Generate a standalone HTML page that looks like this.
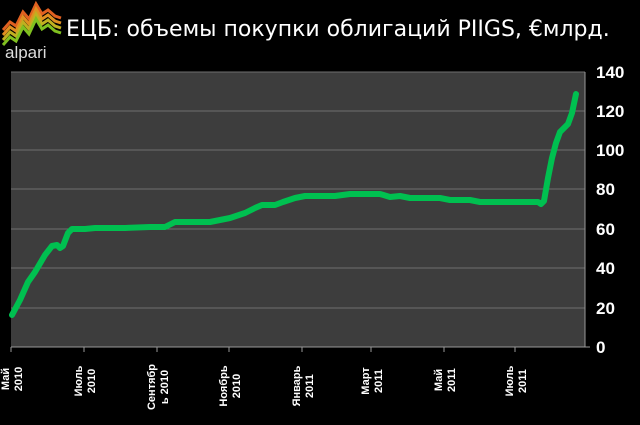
<!DOCTYPE html>
<html><head><meta charset="utf-8"><style>
body{margin:0;background:#000;width:640px;height:420px;overflow:hidden}
</style></head><body>
<svg width="640" height="420" xmlns="http://www.w3.org/2000/svg" font-family="Liberation Sans, DejaVu Sans, sans-serif">
<rect width="640" height="420" fill="#000"/>
<g>
<polyline points="3,30 10,22 16,26 23,12 29,19 36,4 42,14 48,10 55,16 61,18" fill="none" stroke="#e06020" stroke-width="3"/>
<polyline points="3,35 10,27 16,31 23,17 29,24 36,9 42,19 48,15 55,21 61,23" fill="none" stroke="#e09020" stroke-width="3"/>
<polyline points="3,40 10,32 16,36 23,22 29,29 36,14 42,24 48,20 55,26 61,28" fill="none" stroke="#c0b020" stroke-width="3"/>
<polyline points="3,45 10,37 16,41 23,27 29,34 36,19 42,29 48,25 55,31 61,33" fill="none" stroke="#80c020" stroke-width="3"/>
<text x="5" y="58" fill="#ddd" font-size="17">alpari</text>
</g>
<text x="66" y="36" fill="#fff" font-size="22" font-family="DejaVu Sans, sans-serif">ЕЦБ: объемы покупки облигаций PIIGS, €млрд.</text>
<rect x="11" y="72" width="574" height="275" fill="#3d3d3d"/>
<g stroke="#6e6e6e" stroke-width="1">
<line x1="11" x2="585" y1="111" y2="111"/><line x1="11" x2="585" y1="150" y2="150"/>
<line x1="11" x2="585" y1="189" y2="189"/><line x1="11" x2="585" y1="229" y2="229"/>
<line x1="11" x2="585" y1="268" y2="268"/><line x1="11" x2="585" y1="308" y2="308"/>
<line x1="11" x2="585" y1="72" y2="72"/>
</g>
<g stroke="#999" stroke-width="1">
<line x1="11" x2="590" y1="347" y2="347"/><line x1="585" x2="585" y1="72" y2="347"/>
<line x1="11" x2="11" y1="347" y2="352"/><line x1="84" x2="84" y1="347" y2="352"/>
<line x1="157" x2="157" y1="347" y2="352"/><line x1="229" x2="229" y1="347" y2="352"/>
<line x1="302" x2="302" y1="347" y2="352"/><line x1="371" x2="371" y1="347" y2="352"/>
<line x1="444" x2="444" y1="347" y2="352"/><line x1="515" x2="515" y1="347" y2="352"/>
</g>
<g fill="#fff" font-size="17" font-weight="bold">
<text x="596" y="78">140</text><text x="596" y="117">120</text><text x="596" y="156">100</text>
<text x="596" y="195">80</text><text x="596" y="235">60</text><text x="596" y="274">40</text>
<text x="596" y="314">20</text><text x="596" y="353">0</text>
</g>
<g fill="#fff" font-size="11" font-weight="bold" text-anchor="middle">
<text transform="translate(11,379) rotate(-90)"><tspan x="0" dy="-2">Май</tspan><tspan x="0" dy="13">2010</tspan></text>
<text transform="translate(84,381) rotate(-90)"><tspan x="0" dy="-2">Июль</tspan><tspan x="0" dy="13">2010</tspan></text>
<text transform="translate(157,387) rotate(-90)"><tspan x="0" dy="-2">Сентябр</tspan><tspan x="0" dy="13">ь 2010</tspan></text>
<text transform="translate(229,386) rotate(-90)"><tspan x="0" dy="-2">Ноябрь</tspan><tspan x="0" dy="13">2010</tspan></text>
<text transform="translate(302,386) rotate(-90)"><tspan x="0" dy="-2">Январь</tspan><tspan x="0" dy="13">2011</tspan></text>
<text transform="translate(371,381) rotate(-90)"><tspan x="0" dy="-2">Март</tspan><tspan x="0" dy="13">2011</tspan></text>
<text transform="translate(444,380) rotate(-90)"><tspan x="0" dy="-2">Май</tspan><tspan x="0" dy="13">2011</tspan></text>
<text transform="translate(515,381) rotate(-90)"><tspan x="0" dy="-2">Июль</tspan><tspan x="0" dy="13">2011</tspan></text>
</g>
<polyline fill="none" stroke="#00c050" stroke-width="6" stroke-linejoin="round" stroke-linecap="round"
points="12,315 20,300 28,282 35,272 45,255 52,246 57,245 60,248 63,246 68,233 72,229 85,229 95,228 125,228 150,227 165,227 175,222 210,222 230,218 245,213 255,208 262,205 275,205 283,202 295,198 305,196 335,196 350,194 380,194 390,197 400,196 410,198 430,198 440,198 450,200 470,200 480,202 510,202 538,202 541,204 544,201 548,178 552,158 556,143 560,132 564,128 568,124 572,113 576,94"/>
</svg>
</body></html>
